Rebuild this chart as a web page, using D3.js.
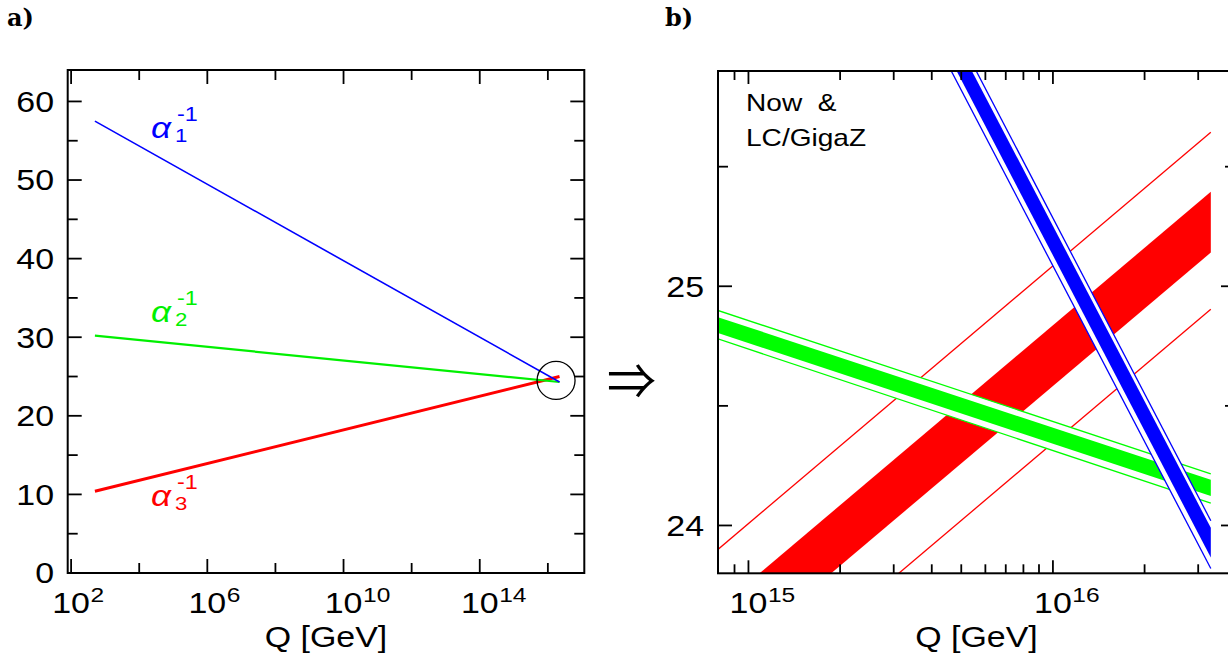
<!DOCTYPE html>
<html><head><meta charset="utf-8">
<script src="https://cdn.jsdelivr.net/npm/d3@7"></script>
<style>body{margin:0;background:#fff}svg{display:block}</style>
</head><body>
<svg id="c" width="1228" height="664"></svg>
<script>
// ---------------- data ----------------
// panel a) : running of inverse couplings (straight in log Q)
const leftQ = [500, 2.2e16];
const alpha1Run = [57.5, 24.3];
const alpha2Run = [30.2, 24.3];
const alpha3Run = [10.4, 25.0];
const leftYMajor = [0, 10, 20, 30, 40, 50, 60];
const leftYMinor = [5, 15, 25, 35, 45, 55];
const leftXMajor = [1e2, 1e6, 1e10, 1e14];
const leftXMinor = [1e4, 1e8, 1e12, 1e16];
const leftXExp = ["2", "6", "10", "14"];
const zoomCircle = [1.74e16, 24.5];

// panel b) : zoom on the unification region, bands at two Q values
const zoomQ = [7.94e14, 3.3e16];
const alpha1FillLo = [27.81, 23.866];
const alpha1FillHi = [27.93, 23.990];
const alpha1OuterLo = [27.77, 23.820];
const alpha1OuterHi = [27.97, 24.020];
const alpha2FillLo = [24.805, 24.123];
const alpha2FillHi = [24.871, 24.191];
const alpha2OuterLo = [24.780, 24.093];
const alpha2OuterHi = [24.899, 24.216];
const alpha3FillLo = [23.400, 25.141];
const alpha3FillHi = [23.653, 25.395];
const alpha3OuterLo = [23.160, 24.904];
const alpha3OuterHi = [23.900, 25.644];
const rightYMajor = [24, 25];
const rightYMinor = [24.5, 25.5];
const rightXMajor = [1e15, 1e16];
const rightXExp = ["15", "16"];
const rightXMinor = [9e14, 2e15, 3e15, 4e15, 5e15, 6e15, 7e15, 8e15, 9e15, 2e16, 3e16];

// ---------------- drawing ----------------
const svg = d3.select("#c");
const SX = 1.17;               // horizontal stretch of the original lettering
const FONT = "'Liberation Sans', Arial, sans-serif";

function stext(parent, x, y, str, size, anchor, fill, style) {
  const g = parent.append("g").attr("transform", `translate(${x},${y}) scale(${SX},1)`);
  const t = g.append("text").attr("x", 0).attr("y", 0)
    .attr("font-family", FONT).attr("font-size", size)
    .attr("text-anchor", anchor || "start").attr("fill", fill || "#000")
    .style("white-space", "pre").text(str);
  if (style) t.attr("font-style", style);
  return t;
}
function powLabel(parent, x, y, exp) {
  const g = parent.append("g").attr("transform", `translate(${x},${y}) scale(${SX},1)`);
  const base = g.append("text").attr("font-family", FONT).attr("font-size", 29)
    .attr("text-anchor", "middle").text("10");
  const w = base.node().getComputedTextLength();
  g.append("text").attr("x", w / 2 + 0.5).attr("y", -11)
    .attr("font-family", FONT).attr("font-size", 21).text(exp);
}
function alphaLabel(parent, x, y, idx, color) {
  stext(parent, x, y, "\u03B1", 30, "start", color, "italic");
  stext(parent, x + 24, y + 4, idx, 19, "start", color);
  stext(parent, x + 26, y - 17, "-1", 20, "start", color);
}

// panel labels
svg.append("text").attr("x", 7).attr("y", 26).attr("font-family", "'DejaVu Serif', serif")
  .attr("font-weight", "bold").attr("font-size", 24).text("a)");
svg.append("text").attr("x", 665).attr("y", 26).attr("font-family", "'DejaVu Serif', serif")
  .attr("font-weight", "bold").attr("font-size", 24).text("b)");

// ===== panel a =====
const L = {x0: 67.7, x1: 584.3, y0: 70, y1: 573};
const xL = d3.scaleLog().domain([Math.pow(10, 1.9), Math.pow(10, 17.07)]).range([L.x0, L.x1]);
const yL = d3.scaleLinear().domain([0, 64]).range([L.y1, L.y0]);
const gA = svg.append("g");

const lineL = d3.line().x(d => xL(d[0])).y(d => yL(d[1]));
const runs = [[alpha3Run, "#ff0000", 3], [alpha2Run, "#00f000", 2.2], [alpha1Run, "#0000ff", 1.6]];
runs.forEach(([vals, col, w]) => {
  gA.append("path").attr("d", lineL(leftQ.map((q, i) => [q, vals[i]])))
    .attr("fill", "none").attr("stroke", col).attr("stroke-width", w);
});
gA.append("circle").attr("cx", xL(zoomCircle[0])).attr("cy", yL(zoomCircle[1])).attr("r", 19)
  .attr("fill", "none").attr("stroke", "#000").attr("stroke-width", 1.3);

// frame + ticks
gA.append("rect").attr("x", L.x0).attr("y", L.y0).attr("width", L.x1 - L.x0).attr("height", L.y1 - L.y0)
  .attr("fill", "none").attr("stroke", "#000").attr("stroke-width", 2);
function tickY(g, ys, len, x0, x1, w) {
  ys.forEach(v => {
    g.append("line").attr("x1", x0).attr("x2", x0 + len).attr("y1", v).attr("y2", v).attr("stroke", "#000").attr("stroke-width", w);
    g.append("line").attr("x1", x1).attr("x2", x1 - len).attr("y1", v).attr("y2", v).attr("stroke", "#000").attr("stroke-width", w);
  });
}
function tickX(g, xs, len, y0, y1, w) {
  xs.forEach(v => {
    g.append("line").attr("x1", v).attr("x2", v).attr("y1", y1).attr("y2", y1 - len).attr("stroke", "#000").attr("stroke-width", w);
    g.append("line").attr("x1", v).attr("x2", v).attr("y1", y0).attr("y2", y0 + len).attr("stroke", "#000").attr("stroke-width", w);
  });
}
tickY(gA, leftYMajor.map(yL), 14, L.x0, L.x1, 1.8);
tickY(gA, leftYMinor.map(yL), 10, L.x0, L.x1, 1.8);
tickX(gA, leftXMajor.map(xL), 14, L.y0, L.y1, 1.8);
tickX(gA, leftXMinor.map(xL), 10, L.y0, L.y1, 1.8);
leftYMajor.forEach(v => stext(gA, 54, yL(v) + 10.4, String(v), 29, "end"));
leftXMajor.forEach((q, i) => powLabel(gA, xL(q), 613, leftXExp[i]));
stext(gA, (L.x0 + L.x1) / 2, 647, "Q [GeV]", 29, "middle");

alphaLabel(gA, 151, 138, "1", "#0000ff");
alphaLabel(gA, 151, 322, "2", "#00f000");
alphaLabel(gA, 151, 506, "3", "#ff0000");

// arrow (fit its box to 607..656 x 362..392)
const arrow = svg.append("text").attr("x", 0).attr("y", 0)
  .attr("font-family", "'Noto Sans CJK JP', 'DejaVu Sans', sans-serif").attr("font-size", 60).text("\u21D2");
(function () {
  const b = arrow.node().getBBox();
  const s = 49 / b.width;
  arrow.attr("transform", `translate(${607 - b.x * s},${377 - (b.y + b.height * 0.5) * s + 0}) scale(${s})`);
})();

// ===== panel b =====
const R = {x0: 718, x1: 1235, y0: 71, y1: 573.3};
const xR = d3.scaleLog().domain([Math.pow(10, 14.9), Math.pow(10, 16.598)]).range([R.x0, R.x1]);
const yR = d3.scaleLinear().domain([23.8, 25.9]).range([R.y1, R.y0]);
const gB = svg.append("g");
svg.append("clipPath").attr("id", "clipR").append("rect")
  .attr("x", R.x0).attr("y", R.y0).attr("width", R.x1 - R.x0).attr("height", R.y1 - R.y0);
const gBands = gB.append("g").attr("clip-path", "url(#clipR)");

function poly(lo, hi) {
  const pts = [[zoomQ[0], lo[0]], [zoomQ[1], lo[1]], [zoomQ[1], hi[1]], [zoomQ[0], hi[0]]];
  return "M" + pts.map(p => xR(p[0]) + "," + yR(p[1])).join("L") + "Z";
}
function seg(vals) {
  return "M" + xR(zoomQ[0]) + "," + yR(vals[0]) + "L" + xR(zoomQ[1]) + "," + yR(vals[1]);
}
const bands = [
  [alpha3FillLo, alpha3FillHi, alpha3OuterLo, alpha3OuterHi, "#ff0000"],
  [alpha2FillLo, alpha2FillHi, alpha2OuterLo, alpha2OuterHi, "#00ff00"],
  [alpha1FillLo, alpha1FillHi, alpha1OuterLo, alpha1OuterHi, "#0000ff"]
];
bands.forEach(([fl, fh, ol, oh, col]) => {
  if (col !== "#ff0000") gBands.append("path").attr("d", poly(ol, oh)).attr("fill", "#fff");
  gBands.append("path").attr("d", poly(fl, fh)).attr("fill", col);
  [ol, oh].forEach(v => gBands.append("path").attr("d", seg(v)).attr("fill", "none")
    .attr("stroke", col).attr("stroke-width", 1.3));
});

gB.append("rect").attr("x", R.x0).attr("y", R.y0).attr("width", R.x1 - R.x0).attr("height", R.y1 - R.y0)
  .attr("fill", "none").attr("stroke", "#000").attr("stroke-width", 2);
tickY(gB, rightYMajor.map(yR), 14, R.x0, R.x1, 1.8);
tickY(gB, rightYMinor.map(yR), 10, R.x0, R.x1, 1.8);
tickX(gB, rightXMajor.map(xR), 13, R.y0, R.y1, 1.8);
tickX(gB, rightXMinor.map(xR), 9, R.y0, R.y1, 1.8);
rightYMajor.forEach(v => stext(gB, 704, yR(v) + 10.4, String(v), 29, "end"));
rightXMajor.forEach((q, i) => powLabel(gB, xR(q), 613, rightXExp[i]));
stext(gB, (R.x0 + R.x1) / 2, 647, "Q [GeV]", 29, "middle");
stext(gB, 746, 111, "Now  &", 24, "start");
stext(gB, 746, 146, "LC/GigaZ", 24, "start");
</script>
</body></html>
